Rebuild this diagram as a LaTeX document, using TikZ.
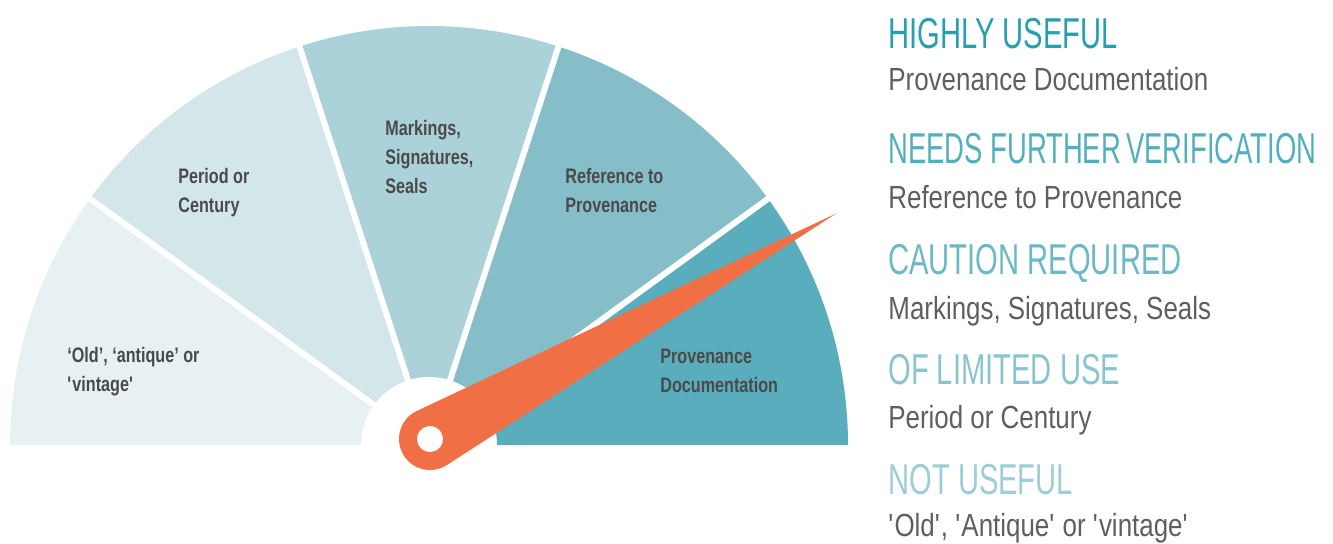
\documentclass[tikz,border=0pt]{standalone}
\usepackage{fontspec}
\setmainfont{Liberation Sans}
\newfontfamily\headfont{Liberation Sans}[FakeStretch=0.675]
\newfontfamily\headnarrow{Liberation Sans}[FakeStretch=0.635]
\newfontfamily\subfont{Liberation Sans}[FakeStretch=0.81]
\newfontfamily\segfont{Liberation Sans}[FakeStretch=0.77]
\definecolor{segA}{RGB}{231,241,244}
\definecolor{segB}{RGB}{211,230,234}
\definecolor{segC}{RGB}{171,209,217}
\definecolor{segD}{RGB}{133,190,201}
\definecolor{segE}{RGB}{90,173,188}
\definecolor{needle}{RGB}{241,111,68}
\definecolor{labelgray}{RGB}{74,74,74}
\definecolor{subgray}{RGB}{95,95,95}
\definecolor{headA}{RGB}{36,160,176}
\definecolor{headB}{RGB}{82,176,190}
\definecolor{headC}{RGB}{108,185,198}
\definecolor{headD}{RGB}{137,197,208}
\definecolor{headE}{RGB}{158,205,215}
\tikzset{
seglabel/.style={font=\segfont\bfseries\fontsize{10.5}{14.5}\selectfont, text=labelgray, align=left, anchor=base west, inner sep=0pt},
heading/.style={font=\headfont\fontsize{21.6}{24}\selectfont, anchor=base west, inner sep=0pt},
sublabel/.style={font=\subfont\fontsize{16}{18}\selectfont, text=subgray, anchor=base west, inner sep=0pt}
}
\begin{document}
\begin{tikzpicture}[x=0.5pt,y=0.5pt,yscale=-1,xscale=1]
\useasboundingbox (0,0) rectangle (1333,543);

%Shape: Gauge segments
\begin{scope}[shift={(429,445)},yscale=-1]
\foreach \col [count=\i from 0] in {segA,segB,segC,segD,segE}
  \fill[\col] (0,0) -- ({180-36*\i}:419) arc[start angle={180-36*\i}, end angle={144-36*\i}, radius=419] -- cycle ;
%Straight Lines: gaps
\foreach \a in {36,72,108,144}
  \draw[white, line width=3pt] (0,0) -- (\a:425) ;
%Shape: Hub
\fill[white] (0,0) circle[radius=68] ;
\end{scope}

%Shape: Needle
\begin{scope}[shift={(430,439)},yscale=-1,rotate=29.04]
\fill[needle] (465,0) -- (86.18:31) arc[start angle=86.18, end angle=273.82, radius=31] -- cycle ;
\fill[white] (0,0) circle[radius=13] ;
\end{scope}

%Segment labels (base = last line)
\node[seglabel] (old) at (67,391) {‘Old’, ‘antique’ or\\\textquotesingle vintage\textquotesingle};
\node[seglabel] (period) at (178,212) {Period or\\Century};
\node[seglabel] (markings) at (385,193) {Markings,\\Signatures,\\Seals};
\node[seglabel] (reference) at (565,212) {Reference to\\Provenance};
\node[seglabel] (provdoc) at (660,392) {Provenance\\Documentation};

%Legend
\node[heading, text=headA] (highly) at (888,48) {HIGHLY USEFUL};
\node[sublabel] (highlysub) at (888,90) {Provenance Documentation};
\node[heading, font=\headnarrow\fontsize{21.6}{24}\selectfont, text=headB] (needs) at (888,163) {NEEDS FURTHER\hspace{0.12em}VERIFICATION};
\node[sublabel] (needssub) at (888,208) {Reference to Provenance};
\node[heading, text=headC] (caution) at (888,274) {CAUTION REQUIRED};
\node[sublabel] (cautionsub) at (888,319) {Markings, Signatures, Seals};
\node[heading, text=headD] (limited) at (888,384) {OF LIMITED USE};
\node[sublabel] (limitedsub) at (888,428) {Period or Century};
\node[heading, text=headE] (notuseful) at (888,494) {NOT USEFUL};
\node[sublabel] (notusefulsub) at (888,536) {\textquotesingle Old\textquotesingle, \textquotesingle Antique\textquotesingle{} or \textquotesingle vintage\textquotesingle};

\end{tikzpicture}
\end{document}
